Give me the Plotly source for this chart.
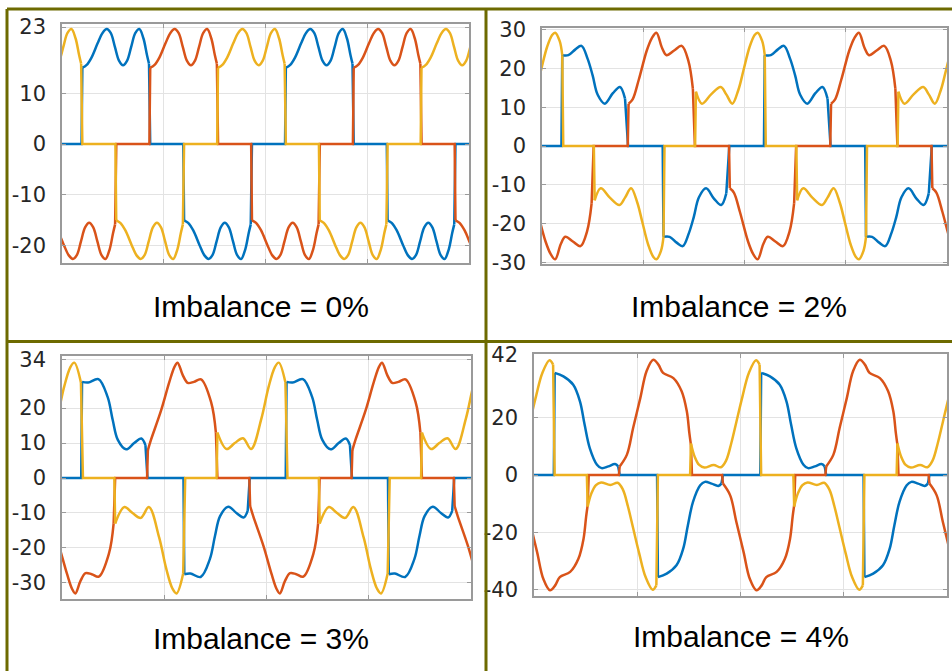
import plotly.graph_objects as go

W, H = 952, 671

BLUE = "#0072BD"
RED = "#D95319"
YELLOW = "#EDB120"

# time is counted in grid divisions: 4 across each plot, one supply cycle = 2.
# every phase conducts in 120-degree pulses; a pulse is listed once
# (offset from its start, current) and placed at the switching instants read
# off the picture, with the negative pulses mirrored.

# ---- Imbalance = 0 %: the same pulse in all three phases
p1_pulse_t = [0, 0.04, 0.09, 0.15, 0.20, 0.24, 0.28, 0.32, 0.36, 0.40, 0.44, 0.48, 0.52, 0.56, 0.60, 0.635, 0.655]
p1_pulse_i = [15.0, 15.5, 17.0, 19.8, 21.9, 22.6, 21.8, 19.1, 16.4, 15.5, 16.4, 19.1, 21.8, 22.6, 20.8, 17.5, 15.8]
p1_pulse_len = 0.667
p1_blue_pos, p1_blue_neg = [0.2, 2.2], [-0.8, 1.2, 3.2]
p1_red_pos, p1_red_neg = [0.867, 2.867], [-0.133, 1.867, 3.867]
p1_yel_pos, p1_yel_neg = [-0.467, 1.533, 3.533], [0.533, 2.533]
p1_ticks = [23, 10, 0, -10, -20]

# ---- Imbalance = 2 %
p2_blue_t = [0, 0.06, 0.13, 0.19, 0.25, 0.30, 0.35, 0.42, 0.50, 0.57, 0.62]
p2_blue_i = [23.4, 23.4, 24.9, 25.8, 22.5, 18.2, 13.2, 10.9, 13.6, 15.2, 12.2]
p2_blue_len = 0.65
p2_blue_pos, p2_blue_neg = [0.2, 2.2], [-0.8, 1.2, 3.2]
p2_red_t = [0, 0.04, 0.10, 0.18, 0.23, 0.275, 0.33, 0.375, 0.45, 0.525, 0.59, 0.635]
p2_red_i = [10.9, 12.0, 17.0, 24.6, 27.8, 29.2, 25.3, 23.4, 24.6, 25.8, 22.0, 14.8]
p2_red_len = 0.655
p2_red_pos, p2_red_neg = [0.855, 2.855], [-0.145, 1.855, 3.855]
p2_yel_t = [0, 0.06, 0.15, 0.245, 0.30, 0.36, 0.42, 0.47, 0.53, 0.58, 0.61, 0.655, 0.68]
p2_yel_i = [14.0, 10.9, 13.3, 15.2, 13.3, 10.9, 14.5, 19.5, 25.5, 28.6, 29.2, 27.0, 23.4]
p2_yel_len = 0.69
p2_yel_pos, p2_yel_neg = [-0.48, 1.52, 3.52], [0.52, 2.52]
p2_ticks = [30, 20, 10, 0, -10, -20, -30]

# ---- Imbalance = 3 %
p3_blue_t = [0, 0.06, 0.16, 0.25, 0.30, 0.35, 0.43, 0.51, 0.58, 0.62]
p3_blue_i = [27.5, 27.3, 28.3, 23.2, 16.6, 10.9, 8.2, 10.0, 11.3, 9.4]
p3_blue_len = 0.64
p3_blue_pos, p3_blue_neg = [0.196, 2.196], [-0.804, 1.196, 3.196]
p3_red_t = [0, 0.03, 0.13, 0.21, 0.26, 0.29, 0.34, 0.39, 0.45, 0.52, 0.62, 0.665]
p3_red_i = [8.0, 10.9, 19.4, 27.5, 31.8, 33.0, 29.5, 27.2, 27.5, 28.2, 21.5, 13.0]
p3_red_len = 0.68
p3_red_pos, p3_red_neg = [0.84, 2.84], [-0.16, 1.84, 3.84]
p3_yel_t = [0, 0.09, 0.17, 0.25, 0.33, 0.43, 0.50, 0.56, 0.60, 0.665]
p3_yel_i = [13.0, 8.3, 10.0, 11.4, 8.3, 17.0, 26.0, 31.6, 33.0, 27.3]
p3_yel_len = 0.685
p3_yel_pos, p3_yel_neg = [-0.48, 1.52, 3.52], [0.52, 2.52]
p3_ticks = [34, 20, 10, 0, -10, -20, -30]

# ---- Imbalance = 4 %
p4_blue_t = [0, 0.085, 0.18, 0.245, 0.29, 0.34, 0.41, 0.455, 0.52, 0.585, 0.615]
p4_blue_i = [35.6, 34.4, 31.5, 25.7, 17.6, 9.4, 3.6, 2.4, 3.0, 3.8, 3.0]
p4_blue_len = 0.63
p4_blue_pos, p4_blue_neg = [0.2, 2.2], [-0.8, 1.2, 3.2]
p4_red_t = [0, 0.07, 0.13, 0.20, 0.26, 0.325, 0.375, 0.42, 0.52, 0.60, 0.65, 0.675, 0.69]
p4_red_i = [3.0, 7.1, 16.4, 26.9, 36.2, 40.2, 38.5, 35.6, 33.8, 29.2, 22.2, 14.5, 10.5]
p4_red_len = 0.70
p4_red_pos, p4_red_neg = [0.83, 2.83], [-0.17, 1.83, 3.83]
p4_yel_t = [0, 0.035, 0.08, 0.13, 0.22, 0.29, 0.34, 0.39, 0.44, 0.50, 0.56, 0.63, 0.665]
p4_yel_i = [11.0, 6.5, 3.5, 2.6, 3.5, 2.7, 5.0, 11.0, 18.5, 27.5, 35.5, 40.0, 38.5]
p4_yel_len = 0.68
p4_yel_pos, p4_yel_neg = [-0.48, 1.52, 3.52], [0.52, 2.52]
p4_ticks = [42, 20, 0, -20, -40]

captions = ["Imbalance = 0%", "Imbalance = 2%", "Imbalance = 3%", "Imbalance = 4%"]

LW = 2.5


def phase_traces(pt, pi, plen, pos, neg, color, ax):
    # curved parts as spline, zero stretches and switching edges as straight lines
    pulses = sorted([(s, 1) for s in pos] + [(s, -1) for s in neg])
    cx, cy = [], []
    fx, fy = [-2], [0]
    for s, sg in pulses:
        cx += [s + t for t in pt] + [None]
        cy += [sg * v for v in pi] + [None]
        fx += [s - 0.008, s, None, s + pt[-1], s + plen]
        fy += [0, sg * pi[0], None, sg * pi[-1], 0]
    fx.append(6)
    fy.append(0)
    flat = go.Scatter(x=fx, y=fy, mode="lines", xaxis="x" + ax, yaxis="y" + ax,
                      line=dict(color=color, width=LW), hoverinfo="skip")
    curve = go.Scatter(x=cx, y=cy, mode="lines", xaxis="x" + ax, yaxis="y" + ax,
                       line=dict(color=color, width=LW, shape="spline", smoothing=1,
                                 simplify=False),
                       hoverinfo="skip")
    return [flat, curve]


panels = [
    dict(phases=[(p1_pulse_t, p1_pulse_i, p1_pulse_len, p1_blue_pos, p1_blue_neg, BLUE),
                 (p1_pulse_t, p1_pulse_i, p1_pulse_len, p1_red_pos, p1_red_neg, RED),
                 (p1_pulse_t, p1_pulse_i, p1_pulse_len, p1_yel_pos, p1_yel_neg, YELLOW)],
         ticks=p1_ticks, yrange=[-23.4, 23.6], box=(62, 469, 24, 263), cap=(261, 306)),
    dict(phases=[(p2_blue_t, p2_blue_i, p2_blue_len, p2_blue_pos, p2_blue_neg, BLUE),
                 (p2_red_t, p2_red_i, p2_red_len, p2_red_pos, p2_red_neg, RED),
                 (p2_yel_t, p2_yel_i, p2_yel_len, p2_yel_pos, p2_yel_neg, YELLOW)],
         ticks=p2_ticks, yrange=[-30.4, 30.4], box=(542, 947, 28, 264), cap=(739, 306)),
    dict(phases=[(p3_blue_t, p3_blue_i, p3_blue_len, p3_blue_pos, p3_blue_neg, BLUE),
                 (p3_red_t, p3_red_i, p3_red_len, p3_red_pos, p3_red_neg, RED),
                 (p3_yel_t, p3_yel_i, p3_yel_len, p3_yel_pos, p3_yel_neg, YELLOW)],
         ticks=p3_ticks, yrange=[-34.6, 34.9], box=(62, 471, 356, 599), cap=(261, 638)),
    dict(phases=[(p4_blue_t, p4_blue_i, p4_blue_len, p4_blue_pos, p4_blue_neg, BLUE),
                 (p4_red_t, p4_red_i, p4_red_len, p4_red_pos, p4_red_neg, RED),
                 (p4_yel_t, p4_yel_i, p4_yel_len, p4_yel_pos, p4_yel_neg, YELLOW)],
         ticks=p4_ticks, yrange=[-42.2, 42.2], box=(534, 947, 354, 596), cap=(741, 636)),
]

fig = go.Figure()
layout = dict(width=W, height=H, autosize=False,
              margin=dict(l=0, r=0, t=0, b=0, pad=0, autoexpand=False),
              paper_bgcolor="white", plot_bgcolor="white", showlegend=False)
annotations = []

for k, p in enumerate(panels):
    ax = "" if k == 0 else str(k + 1)
    for ph in p["phases"]:
        for tr in phase_traces(*ph, ax):
            fig.add_trace(tr)
    x0, x1, y0, y1 = p["box"]
    common = dict(showline=True, linecolor="#9a9a9a", linewidth=1.5, mirror="ticks",
                  ticks="inside", ticklen=4, tickcolor="#9a9a9a", automargin=False,
                  showgrid=True, gridcolor="#e3e3e3", gridwidth=1, zeroline=False)
    layout["xaxis" + ax] = dict(common, domain=[x0 / W, x1 / W], range=[0, 4],
                                tickvals=[0, 1, 2, 3, 4], showticklabels=False,
                                anchor="y" + ax)
    layout["yaxis" + ax] = dict(common, domain=[1 - y1 / H, 1 - y0 / H], range=p["yrange"],
                                tickvals=p["ticks"], ticktext=[str(t) for t in p["ticks"]],
                                tickfont=dict(family="DejaVu Sans", size=21, color="#262626"),
                                ticklabelstandoff=10, anchor="x" + ax)
    annotations.append(dict(text=captions[k], x=p["cap"][0] / W, y=1 - p["cap"][1] / H,
                            xref="paper", yref="paper", xanchor="center", yanchor="middle",
                            showarrow=False,
                            font=dict(family="Arial, Liberation Sans", size=30, color="black")))

# olive table frame around the four cells
OLIVE = "#6d6a00"
frame = [(7, 9, 952, 9), (7, 9, 7, 671), (486, 9, 486, 671), (7, 341.5, 952, 341.5)]
shapes = [dict(type="line", xref="paper", yref="paper", x0=a / W, y0=1 - b / H,
               x1=c / W, y1=1 - d / H, line=dict(color=OLIVE, width=3), layer="above")
          for a, b, c, d in frame]

layout["annotations"] = annotations
layout["shapes"] = shapes
fig.update_layout(**layout)

# pin the figure to the window's top-left corner so the page is exactly 952x671
pin = """
var gd = document.getElementById('{plot_id}');
gd.style.position = 'fixed'; gd.style.left = '0px'; gd.style.top = '0px';
document.body.style.margin = '0px';
document.documentElement.style.overflow = 'hidden';
document.body.style.overflow = 'hidden';
"""
fig.write_html("out.html", config={"displayModeBar": False}, post_script=pin)
